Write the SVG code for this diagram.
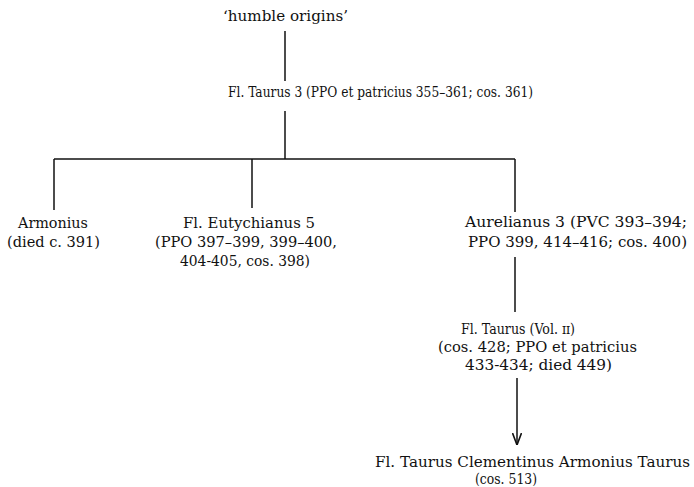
<svg xmlns="http://www.w3.org/2000/svg" width="694" height="487" viewBox="0 0 694 487">
<defs>
<style>
text{font-family:"DejaVu Serif","Liberation Serif",serif;font-size:15px;fill:#111}
text.s{font-size:14px}
.c line{stroke:#111;stroke-width:1.5;fill:none}
</style>
<marker id="ah" viewBox="0 0 12 10" refX="12" refY="5" markerWidth="12" markerHeight="10" markerUnits="userSpaceOnUse" orient="auto">
<path d="M0,0.5 L12,5 L0,9.5" fill="none" stroke="#111" stroke-width="1.6"/>
</marker>
</defs>
<rect width="694" height="487" fill="#fff"/>
<g class="c" id="connectors">
<line x1="285" y1="31" x2="285" y2="81"/>
<line x1="285" y1="111" x2="285" y2="159"/>
<line x1="54" y1="159" x2="515" y2="159"/>
<line x1="54" y1="159" x2="54" y2="210"/>
<line x1="252" y1="159" x2="252" y2="208"/>
<line x1="515" y1="159" x2="515" y2="212"/>
<line x1="515" y1="257" x2="515" y2="312"/>
<line x1="517" y1="378" x2="517" y2="445" marker-end="url(#ah)"/>
</g>
<g id="origins"><text x="223" y="21" textLength="125" lengthAdjust="spacingAndGlyphs">‘humble origins’</text></g>
<g id="taurus3"><text class="s" x="228" y="97" textLength="305" lengthAdjust="spacingAndGlyphs">Fl. Taurus 3 (PPO et patricius 355–361; cos. 361)</text></g>
<g id="armonius">
<text x="18" y="228" textLength="70" lengthAdjust="spacingAndGlyphs">Armonius</text>
<text x="7" y="247" textLength="93" lengthAdjust="spacingAndGlyphs">(died c. 391)</text>
</g>
<g id="eutychianus">
<text x="183" y="228" textLength="132" lengthAdjust="spacingAndGlyphs">Fl. Eutychianus 5</text>
<text x="155" y="247" textLength="182" lengthAdjust="spacingAndGlyphs">(PPO 397–399, 399–400,</text>
<text x="180" y="266" textLength="130" lengthAdjust="spacingAndGlyphs">404-405, cos. 398)</text>
</g>
<g id="aurelianus">
<text x="465" y="227" textLength="222" lengthAdjust="spacingAndGlyphs">Aurelianus 3 (PVC 393–394;</text>
<text x="468" y="247" textLength="219" lengthAdjust="spacingAndGlyphs">PPO 399, 414–416; cos. 400)</text>
</g>
<g id="taurus2">
<text class="s" x="461" y="334" textLength="114" lengthAdjust="spacingAndGlyphs">Fl. Taurus (Vol. ɪɪ)</text>
<text x="438" y="352" textLength="199" lengthAdjust="spacingAndGlyphs">(cos. 428; PPO et patricius</text>
<text x="465" y="370" textLength="147" lengthAdjust="spacingAndGlyphs">433-434; died 449)</text>
</g>
<g id="clementinus">
<text x="375" y="467" textLength="315" lengthAdjust="spacingAndGlyphs">Fl. Taurus Clementinus Armonius Taurus</text>
<text class="s" x="475" y="484" textLength="62" lengthAdjust="spacingAndGlyphs">(cos. 513)</text>
</g>
</svg>
